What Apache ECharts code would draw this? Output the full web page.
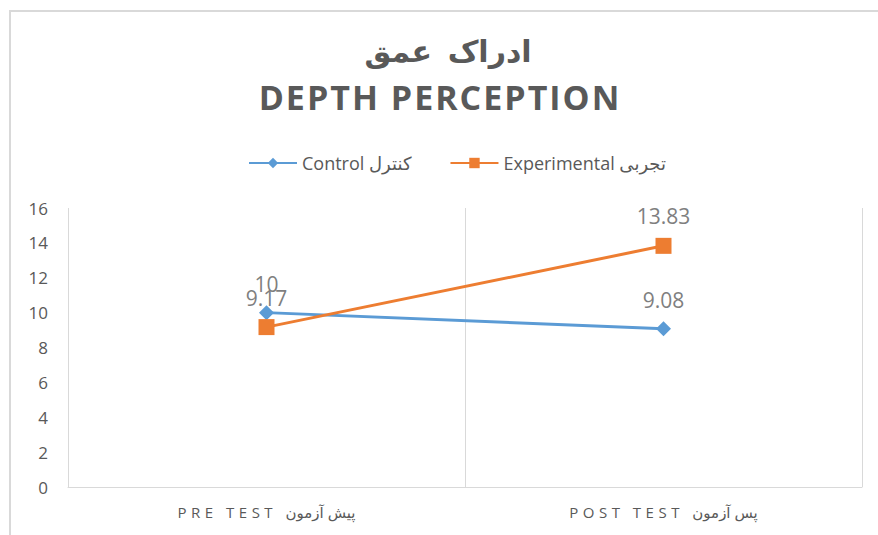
<!DOCTYPE html>
<html>
<head>
<meta charset="utf-8">
<script src="https://cdn.jsdelivr.net/npm/echarts@6/dist/echarts.min.js"></script>
<style>
  html, body { margin: 0; padding: 0; background: #fff; }
  #main { width: 878px; height: 535px; }
</style>
</head>
<body>
<div id="main"></div>
<script>
// 数据
const categories = ["PRE TEST پیش آزمون", "POST TEST پس آزمون"];
const controlValues = [10, 9.08];
const experimentalValues = [9.17, 13.83];
const seriesNames = ["Control کنترل", "Experimental تجربی"];
const titleFa = "ادراک  عمق";
const titleEn = "DEPTH PERCEPTION";

const textColor = "#595959";
const labelColor = "#7f7f7f";
const lineColor = "#d9d9d9";
const font = "'Open Sans', 'DejaVu Sans', sans-serif";

// svg 渲染，方便给部分文字加字间距
const chart = echarts.init(document.getElementById("main"), null, { renderer: "svg" });

const option = {
  backgroundColor: "#fff",
  animation: false,
  textStyle: { fontFamily: font },
  legend: {
    top: 149,
    left: 243,
    itemWidth: 48,
    itemHeight: 13,
    itemGap: 38,
    textStyle: { fontSize: 18, color: textColor, fontFamily: font },
    data: seriesNames
  },
  grid: { left: 68, right: 16, top: 208, bottom: 48 },
  xAxis: {
    type: "category",
    data: categories,
    boundaryGap: true,
    axisLine: { lineStyle: { color: lineColor, width: 1 } },
    axisTick: { show: false },
    splitLine: { show: true, lineStyle: { color: lineColor, width: 1 } },
    axisLabel: { color: textColor, fontSize: 15, margin: 17, fontFamily: font }
  },
  yAxis: {
    type: "value",
    min: 0,
    max: 16,
    interval: 2,
    axisLine: { show: false },
    axisTick: { show: false },
    splitLine: { show: false },
    axisLabel: { color: textColor, fontSize: 17, margin: 20, fontFamily: font }
  },
  series: [
    {
      name: seriesNames[0],
      type: "line",
      data: controlValues,
      symbol: "diamond",
      symbolSize: 15,
      color: "#5b9bd5",
      lineStyle: { width: 3, color: "#5b9bd5" },
      itemStyle: { color: "#5b9bd5" },
      label: { show: true, position: "top", distance: 11, color: labelColor, fontSize: 21 }
    },
    {
      name: seriesNames[1],
      type: "line",
      data: experimentalValues,
      symbol: "rect",
      symbolSize: 16,
      color: "#ed7d31",
      lineStyle: { width: 3, color: "#ed7d31" },
      itemStyle: { color: "#ed7d31" },
      label: { show: true, position: "top", distance: 11, color: labelColor, fontSize: 21 }
    }
  ],
  graphic: [
    {
      type: "polyline",
      shape: { points: [[10, 535], [10, 11], [878, 11]] },
      style: { stroke: "#d9d9d9", lineWidth: 2, fill: null },
      silent: true
    },
    {
      type: "text",
      x: 448,
      y: 35,
      style: {
        text: titleFa, fill: textColor, fontSize: 30, fontWeight: "bold",
        fontFamily: font, textAlign: "center", textVerticalAlign: "top"
      }
    },
    {
      type: "text",
      x: 440,
      y: 80,
      style: {
        text: titleEn, fill: textColor, fontSize: 34, fontWeight: "bold",
        fontFamily: font, textAlign: "center", textVerticalAlign: "top"
      }
    }
  ]
};

chart.setOption(option);

// 字间距
const spacing = {};
spacing[categories[0]] = "4.5px";
spacing[categories[1]] = "4.5px";
spacing[titleEn] = "2px";
spacing[titleFa] = "2px";

function applySpacing() {
  document.querySelectorAll("#main text").forEach(function (t) {
    const s = spacing[t.textContent];
    if (s) t.style.letterSpacing = s;
  });
}
chart.on("finished", applySpacing);
applySpacing();
</script>
</body>
</html>
